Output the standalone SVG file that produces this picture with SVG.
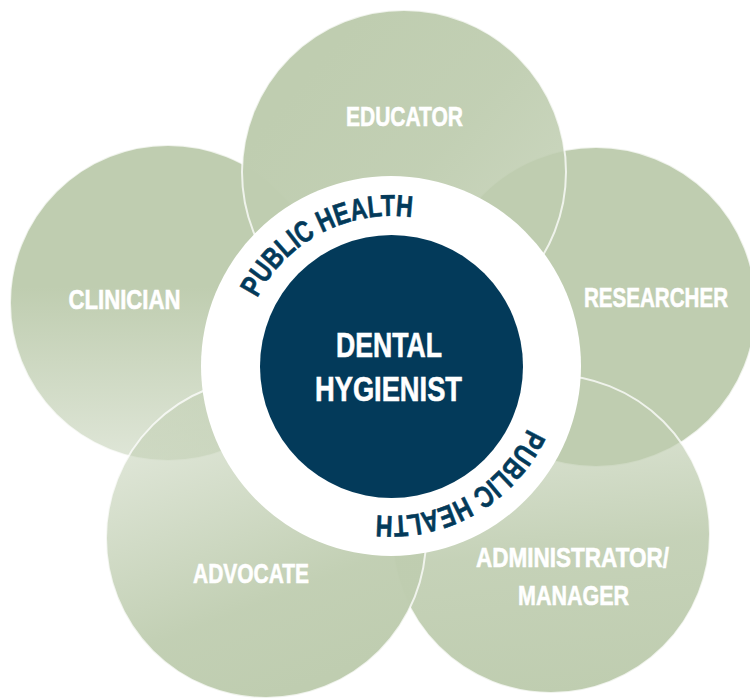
<svg xmlns="http://www.w3.org/2000/svg" width="750" height="699" viewBox="0 0 750 699">
  <style>
    .petal { stroke: #ffffff; stroke-width: 2; stroke-opacity: 0.75; }
    .lbl { font-family: "Liberation Sans Narrow", "Liberation Sans", Arial, sans-serif; font-weight: bold; fill: #ffffff; stroke: #ffffff; stroke-width: 0.6; text-anchor: middle; font-size: 28px; }
    .ctr { font-family: "Liberation Sans Narrow", "Liberation Sans", Arial, sans-serif; font-weight: bold; fill: #ffffff; stroke: #ffffff; stroke-width: 0.6; text-anchor: middle; font-size: 35px; }
    .arc { font-family: "Liberation Sans Narrow", "Liberation Sans", Arial, sans-serif; font-weight: bold; fill: #033a5a; stroke: #033a5a; stroke-width: 0.6; font-size: 30px; }
  </style>
  <defs>
    <linearGradient id="gClin" x1="0" y1="0" x2="0" y2="1">
      <stop offset="0" stop-color="#bfcdb0" stop-opacity="1"/>
      <stop offset="0.45" stop-color="#bfcdb0" stop-opacity="1"/>
      <stop offset="1" stop-color="#bfcdb0" stop-opacity="0.5"/>
    </linearGradient>
    <linearGradient id="gEdu" x1="0.2" y1="0.2" x2="0.9" y2="0.8">
      <stop offset="0" stop-color="#bfcdb0" stop-opacity="1"/>
      <stop offset="0.5" stop-color="#bfcdb0" stop-opacity="0.95"/>
      <stop offset="1" stop-color="#bfcdb0" stop-opacity="0.8"/>
    </linearGradient>
    <linearGradient id="gRes" x1="0" y1="0" x2="0" y2="1">
      <stop offset="0" stop-color="#bfcdb0" stop-opacity="1"/>
      <stop offset="1" stop-color="#bfcdb0" stop-opacity="1"/>
    </linearGradient>
    <linearGradient id="gAdv" x1="0.3" y1="0.05" x2="0.65" y2="0.95">
      <stop offset="0" stop-color="#bfcdb0" stop-opacity="0.45"/>
      <stop offset="0.7" stop-color="#bfcdb0" stop-opacity="0.95"/>
      <stop offset="1" stop-color="#bfcdb0" stop-opacity="1"/>
    </linearGradient>
    <linearGradient id="gAdm" x1="0.45" y1="0.0" x2="0.55" y2="1">
      <stop offset="0" stop-color="#bfcdb0" stop-opacity="0.45"/>
      <stop offset="0.55" stop-color="#bfcdb0" stop-opacity="0.9"/>
      <stop offset="1" stop-color="#bfcdb0" stop-opacity="1"/>
    </linearGradient>
    <path id="arcTop" d="M247.94,411.11 A150,150 0 0 1 510.01,274.68"/>
    <path id="arcBot" d="M532.05,314.94 A150,150 0 0 1 275.92,462.21"/>
  </defs>

  <g id="clinician">
    <circle class="petal" cx="168" cy="303" r="158" fill="url(#gClin)"/>
    <text class="lbl" x="124.5" y="309" textLength="112" lengthAdjust="spacingAndGlyphs">CLINICIAN</text>
  </g>
  <g id="researcher">
    <circle class="petal" cx="596" cy="307" r="160" fill="url(#gRes)"/>
    <text class="lbl" x="656" y="307" textLength="144" lengthAdjust="spacingAndGlyphs">RESEARCHER</text>
  </g>
  <g id="educator">
    <circle class="petal" cx="404" cy="172" r="162" fill="url(#gEdu)" stroke-opacity="0.95"/>
    <text class="lbl" x="404.5" y="126" textLength="117" lengthAdjust="spacingAndGlyphs">EDUCATOR</text>
  </g>
  <g id="administrator">
    <circle class="petal" cx="551" cy="534" r="159" fill="url(#gAdm)"/>
    <text class="lbl" x="572.5" y="567" textLength="193" lengthAdjust="spacingAndGlyphs">ADMINISTRATOR/</text>
    <text class="lbl" x="573.5" y="605" textLength="111" lengthAdjust="spacingAndGlyphs">MANAGER</text>
  </g>
  <g id="advocate">
    <circle class="petal" cx="266" cy="538" r="160" fill="url(#gAdv)"/>
    <text class="lbl" x="251" y="583" textLength="116" lengthAdjust="spacingAndGlyphs">ADVOCATE</text>
  </g>

  <g id="public-health-ring">
    <circle cx="391" cy="366" r="190" fill="#ffffff"/>
    <text class="arc"><textPath href="#arcTop" startOffset="50%" text-anchor="middle" textLength="186" lengthAdjust="spacingAndGlyphs">PUBLIC HEALTH</textPath></text>
    <text class="arc"><textPath href="#arcBot" startOffset="50%" text-anchor="middle" textLength="186" lengthAdjust="spacingAndGlyphs">PUBLIC HEALTH</textPath></text>
  </g>

  <g id="dental-hygienist">
    <circle cx="391.5" cy="366.5" r="131.5" fill="#033a5a"/>
    <text class="ctr" x="389" y="357" textLength="106" lengthAdjust="spacingAndGlyphs">DENTAL</text>
    <text class="ctr" x="388.5" y="401" textLength="147" lengthAdjust="spacingAndGlyphs">HYGIENIST</text>
  </g>

  <g id="connectors"></g>
</svg>
